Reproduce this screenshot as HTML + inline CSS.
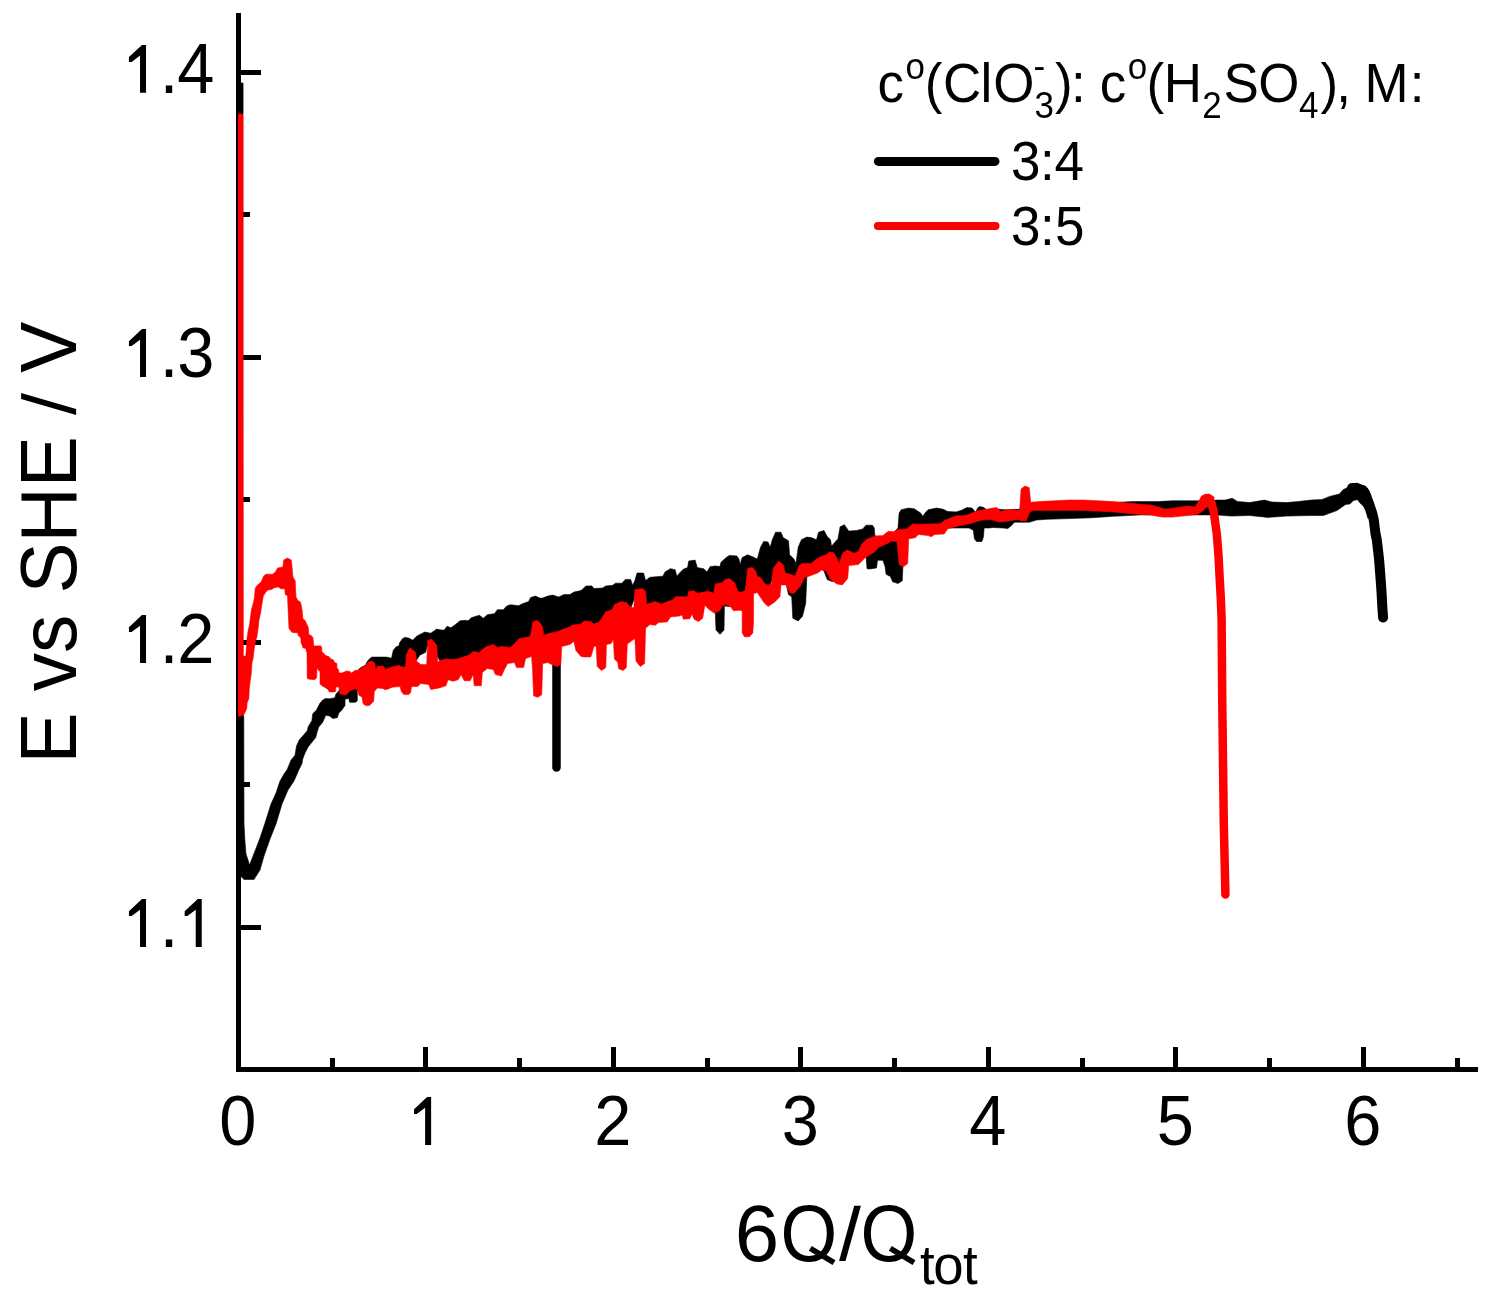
<!DOCTYPE html>
<html><head><meta charset="utf-8"><title>chart</title>
<style>
html,body{margin:0;padding:0;background:#fff;width:1490px;height:1301px;overflow:hidden}
svg{display:block;will-change:transform}
text{font-family:"Liberation Sans",sans-serif;fill:#000;-webkit-font-smoothing:antialiased}
</style></head>
<body>
<svg width="1490" height="1301" viewBox="0 0 1490 1301">
<defs><clipPath id="pc"><rect x="238" y="0" width="1240" height="1069"/></clipPath></defs>
<g fill="#000">
<rect x="236" y="13" width="5" height="1059"/>
<rect x="236" y="1067" width="1242" height="5"/>
<rect x="241" y="70.0" width="20" height="5"/>
<rect x="241" y="355.0" width="20" height="5"/>
<rect x="241" y="640.0" width="20" height="5"/>
<rect x="241" y="925.0" width="20" height="5"/>
<rect x="241" y="212" width="9" height="5"/>
<rect x="241" y="497" width="9" height="5"/>
<rect x="241" y="782" width="9" height="5"/>
<rect x="423" y="1047" width="5" height="20"/>
<rect x="611" y="1047" width="5" height="20"/>
<rect x="798" y="1047" width="5" height="20"/>
<rect x="986" y="1047" width="5" height="20"/>
<rect x="1173" y="1047" width="5" height="20"/>
<rect x="1361" y="1047" width="5" height="20"/>
<rect x="330" y="1058" width="5" height="9"/>
<rect x="517" y="1058" width="5" height="9"/>
<rect x="705" y="1058" width="5" height="9"/>
<rect x="892" y="1058" width="5" height="9"/>
<rect x="1080" y="1058" width="5" height="9"/>
<rect x="1267" y="1058" width="5" height="9"/>
<rect x="1455" y="1058" width="5" height="9"/>
</g>
<g clip-path="url(#pc)" fill="none" stroke-linejoin="round" stroke-linecap="round"><path d="M237.0,83.0 L243.1,83.0 L243.1,112.0 L242.8,120.0 L242.8,712.0 L243.8,717.0 L244.0,824.0 L245.0,842.0 L246.0,854.0 L248.0,860.0 L249.5,865.0 L255.0,851.0 L260.0,838.0 L265.0,823.0 L271.0,804.0 L276.0,793.0 L280.0,781.0 L284.0,774.0 L287.3,769.2 L291.1,759.9 L295.0,755.3 L296.5,746.1 L299.2,740.0 L302.7,736.1 L307.3,730.7 L308.1,726.9 L311.9,720.7 L312.7,713.8 L316.5,710.0 L319.6,703.8 L322.7,700.0 L325.7,698.4 L329.6,698.8 L335.0,697.7 L335.7,694.6 L338.6,690.9 L345.0,682.0 L352.0,676.0 L360.1,668.1 L362.0,666.9 L365.7,665.1 L366.9,662.0 L369.4,658.9 L371.8,657.1 L386.6,657.1 L391.5,658.3 L393.3,650.3 L396.4,646.6 L398.9,646.0 L399.5,642.9 L402.6,638.6 L405.0,637.4 L408.7,638.0 L412.6,640.2 L416.6,636.2 L424.7,632.1 L430.7,633.2 L436.8,629.1 L440.0,629.8 L444.0,630.3 L447.0,626.3 L451.0,627.8 L455.1,624.8 L460.1,620.8 L465.2,620.3 L468.2,620.8 L471.2,617.8 L479.3,615.2 L483.3,618.3 L487.3,614.7 L494.4,613.7 L497.4,609.7 L503.4,609.7 L506.4,606.2 L510.5,604.7 L518.5,605.7 L522.6,603.7 L528.6,601.6 L530.6,597.6 L535.6,596.1 L539.7,598.1 L542.7,598.1 L547.7,596.1 L552.8,595.1 L558.8,597.1 L563.8,594.6 L569.9,594.6 L573.9,592.1 L581.0,590.6 L586.0,586.0 L591.8,585.9 L594.0,588.6 L602.6,588.0 L605.8,585.9 L612.3,585.4 L615.5,583.2 L622.0,583.2 L625.2,579.4 L630.6,579.4 L632.7,585.4 L634.9,580.5 L637.0,573.0 L643.5,573.0 L645.6,580.5 L650.0,577.3 L656.4,576.7 L662.9,576.2 L665.0,571.9 L670.4,568.7 L675.2,569.7 L676.8,576.2 L680.1,572.4 L683.3,569.2 L687.6,567.6 L688.7,561.1 L695.1,560.1 L697.3,567.6 L703.7,568.7 L707.0,571.9 L710.2,566.5 L715.6,566.0 L719.9,566.5 L721.0,562.2 L726.3,557.4 L729.3,555.4 L736.8,555.9 L739.0,559.1 L740.1,564.5 L742.2,557.5 L747.6,554.8 L751.9,556.4 L757.3,559.1 L760.5,547.3 L763.7,541.4 L768.0,541.9 L770.2,547.3 L772.3,539.7 L775.6,532.2 L781.0,532.2 L783.1,537.6 L788.5,540.8 L789.6,554.8 L793.9,559.1 L796.0,563.4 L798.2,547.3 L801.4,539.7 L806.8,537.1 L811.1,537.6 L816.5,539.7 L818.6,532.2 L824.0,530.6 L827.2,536.5 L830.5,539.7 L831.5,546.2 L838.0,538.7 L840.1,526.8 L844.4,524.7 L848.7,531.1 L856.3,530.6 L862.7,529.0 L866.0,525.2 L872.4,525.2 L874.3,528.0 L874.8,535.6 L880.0,538.0 L890.0,535.0 L894.8,531.3 L898.0,528.0 L899.1,513.0 L901.2,509.7 L908.7,508.1 L914.1,508.7 L920.6,513.0 L922.7,516.2 L926.0,511.9 L928.1,509.7 L936.7,508.1 L943.2,509.2 L947.5,511.4 L956.1,511.9 L961.5,510.3 L966.8,507.6 L972.2,508.1 L975.5,512.4 L977.6,508.1 L979.8,506.5 L984.1,507.6 L986.2,509.7 L995.0,509.0 L1005.6,509.7 L1020.0,509.2 L1030.0,507.0 L1060.0,506.0 L1090.0,505.0 L1119.3,502.3 L1132.5,501.6 L1142.9,501.6 L1157.6,501.6 L1172.4,500.8 L1187.2,500.8 L1199.0,500.8 L1216.7,500.1 L1225.0,500.1 L1232.4,498.3 L1237.3,501.4 L1249.6,502.6 L1264.4,500.1 L1271.7,502.0 L1286.5,502.6 L1298.8,501.4 L1311.1,500.1 L1322.2,499.5 L1329.6,496.4 L1339.4,494.0 L1343.1,489.7 L1351.7,485.4 L1356.6,482.9 L1360.3,484.9 L1365.2,485.9 L1368.6,490.1 L1371.0,496.0 L1368.0,518.4 L1365.9,511.5 L1363.8,506.7 L1359.6,502.5 L1357.6,499.7 L1353.4,500.4 L1350.0,503.9 L1345.6,504.4 L1336.9,510.6 L1323.4,515.5 L1311.1,515.5 L1286.5,516.1 L1268.1,517.4 L1249.6,515.5 L1231.2,516.1 L1216.7,514.9 L1196.0,514.9 L1139.9,514.9 L1128.1,515.6 L1113.4,516.3 L1091.2,517.8 L1069.1,518.6 L1046.9,519.3 L1036.6,520.0 L1029.2,522.2 L1014.4,522.2 L1011.0,525.9 L1007.7,528.6 L1003.4,528.0 L992.7,527.5 L989.4,528.0 L984.1,528.0 L983.5,536.7 L981.9,541.5 L976.5,541.5 L974.4,538.8 L973.3,530.2 L969.0,528.0 L962.5,528.0 L950.7,528.0 L945.0,526.0 L936.8,530.8 L930.8,530.9 L924.8,531.1 L918.8,531.3 L912.8,530.9 L906.8,535.9 L902.8,567.9 L902.3,580.8 L898.0,583.5 L892.6,581.8 L890.4,576.5 L886.1,574.3 L885.1,566.8 L882.9,560.3 L877.5,560.3 L876.5,567.9 L870.0,568.9 L867.0,568.8 L866.0,555.9 L858.0,558.7 L852.0,559.2 L846.0,557.5 L840.0,568.5 L836.0,578.0 L832.6,581.7 L827.2,579.6 L824.0,571.0 L816.8,565.9 L810.8,570.4 L806.8,577.4 L805.7,603.2 L802.5,616.2 L798.2,621.0 L792.8,618.3 L791.7,596.8 L788.5,594.6 L785.0,578.9 L779.0,568.4 L773.0,577.8 L767.0,591.7 L761.0,585.2 L755.0,576.8 L749.0,575.3 L743.0,598.5 L737.0,596.0 L733.0,604.0 L730.0,606.5 L725.0,606.0 L724.5,600.0 L724.0,630.0 L720.0,634.3 L716.0,630.0 L715.0,605.0 L707.0,598.5 L701.0,599.6 L695.0,598.5 L689.0,598.3 L683.0,603.7 L677.0,603.7 L671.0,607.4 L665.0,609.6 L659.0,610.0 L653.0,609.2 L647.0,611.1 L641.0,595.8 L635.0,596.7 L629.0,612.7 L623.0,608.9 L617.0,610.4 L611.0,617.0 L605.0,620.0 L599.0,629.1 L593.0,630.3 L587.0,628.1 L581.0,630.7 L575.0,631.9 L569.0,634.2 L563.0,636.2 L557.0,638.7 L551.0,639.9 L545.0,641.9 L539.0,628.8 L533.0,629.1 L527.0,644.1 L521.0,645.2 L515.0,649.9 L509.0,654.3 L503.0,653.6 L497.0,654.2 L491.0,652.2 L485.0,654.3 L479.0,659.5 L473.0,658.7 L467.0,662.7 L461.0,664.7 L455.0,666.3 L449.0,666.2 L443.0,666.8 L437.0,655.6 L431.0,646.4 L427.0,646.0 L425.7,652.3 L419.7,655.3 L416.6,660.3 L414.0,657.0 L410.0,651.0 L403.3,673.9 L397.3,672.7 L391.3,674.3 L385.3,675.6 L379.3,673.2 L373.3,669.1 L367.3,670.2 L361.3,675.1 L357.3,691.5 L357.3,700.7 L355.7,702.3 L349.6,702.3 L348.8,698.4 L345.0,699.2 L345.0,705.4 L341.9,710.0 L338.8,713.0 L337.3,717.7 L332.7,718.4 L329.6,716.1 L325.7,715.3 L322.7,722.3 L318.8,726.9 L317.3,731.5 L315.7,737.6 L311.9,742.3 L308.1,746.9 L305.0,753.0 L302.7,759.2 L301.9,763.8 L298.8,770.0 L294.0,781.0 L288.0,790.0 L282.0,804.0 L276.0,824.0 L270.0,839.0 L264.0,856.0 L260.0,870.0 L254.0,879.4 L244.0,879.4 L241.5,877.0 L237.0,877.0 Z" fill="#000" stroke="#000" stroke-width="0.6"/>
<path d="M1352.0,488.0 L1357.0,488.0 L1363.0,490.5 L1365.5,494.5 L1368.8,503.0 L1372.0,512.5 L1373.8,520.0 L1375.4,533.0 L1376.8,540.0 L1378.6,555.0 L1379.3,562.0 L1381.2,587.0 L1382.6,611.0 L1383.1,617.5" stroke="#000" stroke-width="10"/>
<path d="M556.5,640.0 L556.5,767.5" stroke="#000" stroke-width="8.5"/>
<path d="M238.0,716.0 L238.0,657.0 L245.8,656.0 L247.1,637.6 L248.3,630.0 L249.5,625.0 L250.2,619.2 L251.4,610.0 L253.3,603.0 L254.4,598.0 L255.2,588.4 L256.8,585.7 L259.0,583.8 L261.4,581.5 L263.7,576.1 L266.0,574.2 L270.6,574.2 L272.1,574.6 L275.2,572.3 L277.5,568.1 L282.9,566.9 L283.7,560.0 L287.5,558.1 L291.3,560.0 L292.1,567.7 L292.9,576.9 L295.2,580.7 L296.0,596.9 L297.5,600.0 L300.6,602.3 L302.1,610.0 L302.9,618.4 L305.2,620.7 L308.3,627.6 L308.9,634.8 L310.5,635.1 L312.7,637.0 L313.2,640.0 L313.8,645.9 L320.8,645.9 L321.8,647.2 L321.8,651.5 L326.1,655.8 L328.8,656.4 L331.0,659.1 L333.7,660.1 L334.2,662.3 L336.9,663.4 L336.9,667.7 L338.5,669.8 L339.1,673.0 L341.7,673.0 L344.4,672.0 L345.4,671.2 L349.7,671.2 L351.5,673.0 L355.2,670.3 L358.3,670.6 L362.0,667.5 L365.7,665.7 L368.1,662.0 L371.8,661.1 L374.9,663.2 L375.5,670.6 L377.4,666.3 L382.9,666.0 L386.0,669.4 L388.4,668.1 L394.6,666.3 L398.9,665.4 L402.0,666.9 L405.6,666.9 L406.3,654.6 L409.3,648.5 L410.6,648.3 L415.6,652.3 L416.6,661.3 L420.7,664.4 L426.7,664.4 L427.7,640.2 L431.7,639.2 L436.8,645.2 L437.8,662.3 L440.0,660.5 L446.0,659.0 L453.0,659.5 L457.1,659.0 L463.2,657.0 L469.2,655.0 L473.2,651.5 L479.3,652.5 L485.3,647.0 L493.4,644.4 L497.4,647.5 L501.4,646.4 L510.5,647.5 L514.5,643.4 L519.5,638.4 L525.6,637.4 L530.6,636.4 L532.6,622.3 L536.6,620.3 L539.7,622.3 L542.7,627.3 L543.7,635.4 L548.7,633.4 L553.8,632.4 L558.8,631.3 L562.8,629.3 L568.9,627.3 L571.9,625.3 L578.9,624.3 L580.0,624.6 L584.3,620.9 L590.8,621.4 L594.0,624.1 L599.4,621.9 L605.8,611.7 L612.3,609.6 L614.4,604.7 L620.9,601.5 L626.3,602.6 L629.5,606.3 L633.8,608.0 L634.9,589.7 L642.4,588.6 L645.6,591.3 L646.7,604.2 L655.3,601.5 L661.8,604.2 L666.1,602.0 L672.5,599.9 L675.8,596.7 L682.2,596.7 L687.6,596.7 L688.7,591.3 L694.1,590.7 L697.3,593.4 L704.8,591.8 L709.1,591.3 L713.4,593.4 L715.6,583.7 L722.0,582.7 L725.3,579.4 L729.3,578.5 L734.7,582.8 L737.9,591.4 L741.1,592.5 L745.4,590.3 L747.6,568.8 L751.9,567.2 L755.1,569.9 L757.3,576.3 L760.5,577.4 L764.8,583.9 L768.0,585.0 L771.3,583.9 L773.4,567.7 L778.8,561.3 L783.1,564.5 L785.3,573.1 L790.6,574.2 L795.0,576.3 L799.2,565.6 L802.5,563.4 L811.1,563.4 L816.5,559.1 L820.8,556.4 L826.2,554.8 L829.4,552.1 L833.7,552.7 L836.9,558.0 L839.1,564.5 L842.3,553.7 L846.6,550.0 L850.9,551.6 L854.1,553.2 L858.4,551.6 L861.7,544.1 L867.0,539.2 L875.0,536.0 L882.9,535.6 L888.3,531.3 L893.7,531.8 L896.9,529.7 L906.6,529.1 L913.0,523.7 L917.3,524.3 L940.0,523.7 L945.3,520.0 L956.1,515.7 L962.5,515.7 L966.8,515.1 L972.2,513.0 L977.6,510.8 L984.1,509.7 L992.7,508.1 L997.0,507.6 L1000.2,511.4 L1007.7,509.7 L1019.6,510.4 L1021.1,489.0 L1024.8,486.1 L1029.2,487.6 L1030.7,502.3 L1039.5,501.6 L1054.3,500.8 L1069.1,500.1 L1083.8,500.1 L1098.6,500.8 L1113.4,501.6 L1128.1,503.1 L1142.9,504.5 L1151.7,505.3 L1157.6,506.7 L1165.0,509.0 L1172.4,508.2 L1187.2,506.0 L1195.0,506.9 L1199.3,500.4 L1201.5,496.1 L1205.0,494.3 L1209.0,494.0 L1214.4,497.2 L1209.0,508.0 L1206.8,506.9 L1202.5,511.2 L1197.2,514.4 L1187.2,515.6 L1172.4,517.1 L1162.1,517.1 L1150.3,514.9 L1135.5,514.1 L1113.4,511.9 L1083.8,510.4 L1054.3,510.4 L1032.1,510.4 L1029.2,513.4 L1026.2,520.8 L1020.3,520.8 L1019.0,519.4 L1005.6,521.6 L999.1,522.1 L990.5,519.4 L983.0,520.0 L976.5,521.6 L970.1,523.7 L963.6,524.8 L956.1,526.4 L947.5,529.1 L944.2,534.0 L934.6,534.5 L931.3,536.7 L928.1,535.6 L918.4,534.5 L915.2,537.7 L908.7,538.8 L907.7,563.6 L903.4,566.8 L899.1,564.6 L898.0,551.7 L896.9,541.5 L891.5,541.0 L887.2,543.6 L878.6,547.4 L875.0,551.6 L864.9,558.0 L858.4,564.5 L848.7,565.6 L847.7,578.5 L842.3,584.9 L836.9,583.9 L830.5,579.6 L826.2,571.0 L821.8,569.9 L817.5,573.1 L808.9,576.3 L804.6,577.4 L800.3,586.0 L793.9,593.6 L789.6,592.5 L786.3,584.9 L781.0,584.9 L779.9,596.8 L774.5,602.2 L768.0,606.5 L763.7,602.2 L757.3,592.5 L753.6,593.6 L753.5,622.0 L752.8,633.0 L749.5,636.8 L744.5,636.8 L742.2,633.0 L742.2,611.0 L740.1,610.2 L733.6,610.8 L730.4,606.5 L725.0,604.3 L722.0,606.3 L719.9,610.6 L714.5,613.3 L709.1,609.6 L704.8,605.3 L702.7,618.2 L698.4,621.4 L694.1,619.2 L691.9,613.9 L689.8,618.7 L683.3,619.2 L682.2,615.0 L679.0,616.0 L670.4,617.1 L667.2,621.9 L658.6,622.5 L655.3,625.2 L650.0,624.6 L645.6,627.9 L644.6,663.4 L640.3,666.6 L636.0,661.2 L634.9,638.6 L631.7,640.8 L627.3,644.0 L626.3,667.7 L623.0,670.4 L618.7,668.8 L617.7,662.3 L614.4,659.1 L613.4,639.2 L611.2,643.5 L606.4,644.5 L605.8,667.7 L601.5,670.4 L597.2,666.6 L596.1,646.2 L594.0,646.2 L590.8,656.9 L584.3,656.9 L581.0,656.5 L575.9,650.5 L573.9,641.4 L569.9,644.4 L561.8,646.4 L560.8,664.6 L556.8,666.6 L551.8,664.6 L547.7,662.6 L542.7,663.6 L541.7,694.8 L537.7,697.3 L533.6,695.8 L532.6,670.6 L531.6,656.5 L525.6,658.5 L523.6,667.6 L516.5,667.6 L514.5,662.6 L507.5,663.6 L504.4,669.6 L501.4,676.1 L495.4,674.6 L493.4,669.6 L487.3,668.6 L482.3,672.6 L481.3,685.7 L474.2,685.7 L473.2,674.6 L470.2,680.7 L464.2,680.7 L461.1,674.6 L458.1,679.7 L453.0,681.2 L448.0,679.7 L446.0,685.7 L440.0,687.7 L436.8,688.5 L430.7,689.5 L428.7,684.5 L420.7,683.5 L417.7,686.5 L411.6,686.5 L410.6,692.5 L408.7,694.6 L403.8,694.6 L401.3,691.5 L400.1,686.6 L392.1,687.2 L388.4,689.0 L384.7,689.7 L382.9,688.4 L377.4,688.1 L374.3,691.5 L373.7,701.3 L369.4,705.6 L365.7,705.6 L363.2,703.8 L362.0,697.0 L358.9,695.2 L357.7,689.7 L354.0,689.0 L349.7,690.9 L346.0,695.1 L341.7,694.6 L339.6,693.5 L339.0,687.0 L335.8,687.0 L335.8,690.8 L334.8,691.9 L329.4,691.9 L327.8,689.2 L322.4,686.0 L320.0,684.0 L320.0,684.0 L320.0,671.0 L319.0,670.9 L317.0,667.7 L316.7,677.6 L314.8,679.8 L308.1,679.0 L307.2,678.0 L307.0,653.0 L305.7,648.5 L303.0,647.8 L301.9,644.5 L301.1,642.9 L300.8,638.0 L298.2,635.4 L297.9,633.0 L296.0,632.7 L292.1,632.6 L289.0,628.4 L288.3,614.6 L287.5,595.7 L285.2,594.6 L284.8,588.8 L280.6,588.8 L278.3,586.9 L274.4,587.7 L271.4,589.6 L267.5,590.0 L265.2,593.0 L263.3,596.1 L262.1,603.0 L260.6,613.0 L259.0,620.0 L258.3,626.9 L256.8,637.6 L255.7,640.0 L254.1,649.8 L253.2,657.8 L252.0,662.7 L251.1,675.0 L250.1,681.8 L249.2,689.8 L248.9,698.4 L247.1,702.7 L246.8,708.2 L245.8,710.7 L244.0,714.4 L241.0,716.0 Z" fill="#f00" stroke="#f00" stroke-width="0.6"/>
<path d="M240.0,117.0 L240.0,400.0 L240.2,700.0 L240.5,708.0" stroke="#f00" stroke-width="6.8"/>
<path d="M1208.5,498.5 L1211.5,503.0 L1213.8,512.3 L1216.8,533.8 L1218.5,555.3 L1219.6,576.8 L1220.8,598.3 L1221.6,618.7 L1222.3,706.0 L1223.8,824.0 L1225.4,894.5" stroke="#f00" stroke-width="8.5"/></g>
<g fill="#000"><path d="M748 0L564 0L564 1140L307 944L224 944L224 1094L625 1466L748 1466Z" transform="translate(121.63,92.80) scale(0.03262,-0.03262)"/><text font-size="69.50" transform="translate(159.68,92.80) scale(0.9611,1)">.</text><text font-size="69.50" transform="translate(177.34,92.80) scale(0.9611,1)">4</text><path d="M748 0L564 0L564 1140L307 944L224 944L224 1094L625 1466L748 1466Z" transform="translate(121.63,376.90) scale(0.03262,-0.03262)"/><text font-size="69.50" transform="translate(159.68,376.90) scale(0.9611,1)">.</text><text font-size="69.50" transform="translate(177.34,376.90) scale(0.9611,1)">3</text><path d="M748 0L564 0L564 1140L307 944L224 944L224 1094L625 1466L748 1466Z" transform="translate(121.63,662.90) scale(0.03262,-0.03262)"/><text font-size="69.50" transform="translate(159.68,662.90) scale(0.9611,1)">.</text><text font-size="69.50" transform="translate(177.34,662.90) scale(0.9611,1)">2</text><path d="M748 0L564 0L564 1140L307 944L224 944L224 1094L625 1466L748 1466Z" transform="translate(121.63,946.90) scale(0.03262,-0.03262)"/><text font-size="69.50" transform="translate(159.68,946.90) scale(0.9611,1)">.</text><path d="M748 0L564 0L564 1140L307 944L224 944L224 1094L625 1466L748 1466Z" transform="translate(177.34,946.90) scale(0.03262,-0.03262)"/><text font-size="69.50" transform="translate(219.22,1144.90) scale(0.9611,1)">0</text><path d="M748 0L564 0L564 1140L307 944L224 944L224 1094L625 1466L748 1466Z" transform="translate(406.72,1144.90) scale(0.03262,-0.03262)"/><text font-size="69.50" transform="translate(594.22,1144.90) scale(0.9611,1)">2</text><text font-size="69.50" transform="translate(781.72,1144.90) scale(0.9611,1)">3</text><text font-size="69.50" transform="translate(969.22,1144.90) scale(0.9611,1)">4</text><text font-size="69.50" transform="translate(1156.72,1144.90) scale(0.9611,1)">5</text><text font-size="69.50" transform="translate(1344.22,1144.90) scale(0.9611,1)">6</text></g>
<text font-size="79.91" transform="translate(76.1,763.47) rotate(-90) scale(0.9573,1)">E vs SHE</text>
<text font-size="79.91" transform="translate(76.1,372.64) rotate(-90) scale(0.9573,1)">V</text>
<path d="M21.1,393.1 L21.1,399.1 L76.1,414.9 L76.1,408.9 Z" fill="#000"/>
<text font-size="79.91" transform="translate(734.64,1261.40) scale(0.9996,1)">6</text><text font-size="79.91" transform="translate(780.54,1261.40) scale(0.9130,1)">O</text><text font-size="79.91" transform="translate(860.54,1261.40) scale(0.9130,1)">O</text><path d="M854.2,1205.8 L860.9,1205.8 L845.5,1261 L839.1,1261 Z" fill="#000"/><line x1="810.3" y1="1248.4" x2="834" y2="1262.6" stroke="#000" stroke-width="5.6"/><line x1="890.3" y1="1248.4" x2="914" y2="1262.6" stroke="#000" stroke-width="5.6"/><text font-size="55.14" transform="translate(919.90,1283.60) scale(0.9611,1)">t</text><text font-size="55.14" transform="translate(933.21,1283.60) scale(0.9900,1)">o</text><text font-size="55.14" transform="translate(963.00,1283.60) scale(0.9611,1)">t</text>
<g fill="#000"><text font-size="55.14" transform="translate(877.45,102.20) scale(0.9611,1)">c</text><text font-size="36.42" transform="translate(905.43,78.90) scale(0.9611,1)">o</text><text font-size="55.14" transform="translate(924.71,102.20) scale(0.9611,1)">(</text><text font-size="55.14" transform="translate(943.11,102.20) scale(0.9611,1)">C</text><text font-size="55.14" transform="translate(980.43,102.20) scale(0.9611,1)">l</text><text font-size="55.14" transform="translate(993.29,102.20) scale(0.9611,1)">O</text><text font-size="36.42" transform="translate(1034.47,118.30) scale(0.9611,1)">3</text><text font-size="36.42" transform="translate(1033.54,77.50) scale(0.9611,1)">-</text><text font-size="55.14" transform="translate(1054.89,102.20) scale(0.9611,1)">)</text><text font-size="55.14" transform="translate(1070.96,102.20) scale(0.9611,1)">:</text><text font-size="55.14" transform="translate(1099.65,102.20) scale(0.9611,1)">c</text><text font-size="36.42" transform="translate(1127.63,78.90) scale(0.9611,1)">o</text><text font-size="55.14" transform="translate(1146.41,102.20) scale(0.9611,1)">(</text><text font-size="55.14" transform="translate(1163.75,102.20) scale(0.9611,1)">H</text><text font-size="36.42" transform="translate(1202.14,117.80) scale(0.9611,1)">2</text><text font-size="55.14" transform="translate(1223.59,102.20) scale(0.9611,1)">S</text><text font-size="55.14" transform="translate(1258.29,102.20) scale(0.9611,1)">O</text><text font-size="36.42" transform="translate(1298.90,117.70) scale(0.9611,1)">4</text><text font-size="55.14" transform="translate(1320.59,102.20) scale(0.9611,1)">)</text><text font-size="55.14" transform="translate(1336.14,102.20) scale(0.9611,1)">,</text><text font-size="55.14" transform="translate(1364.55,102.20) scale(0.9611,1)">M</text><text font-size="55.14" transform="translate(1409.66,102.20) scale(0.9611,1)">:</text><text font-size="55.14" transform="translate(1010.88,179.80) scale(0.9611,1)">3</text><text font-size="55.14" transform="translate(1040.06,179.80) scale(0.9611,1)">:</text><text font-size="55.14" transform="translate(1054.58,179.80) scale(0.9611,1)">4</text><text font-size="55.14" transform="translate(1010.88,244.70) scale(0.9611,1)">3</text><text font-size="55.14" transform="translate(1040.06,244.70) scale(0.9611,1)">:</text><text font-size="55.14" transform="translate(1054.88,244.70) scale(0.9611,1)">5</text></g>
<line x1="878.4" y1="161.4" x2="995" y2="161.4" stroke="#000" stroke-width="9" stroke-linecap="round"/>
<line x1="877.9" y1="225.9" x2="995.5" y2="225.9" stroke="#f00" stroke-width="8" stroke-linecap="round"/>
</svg>
</body></html>
